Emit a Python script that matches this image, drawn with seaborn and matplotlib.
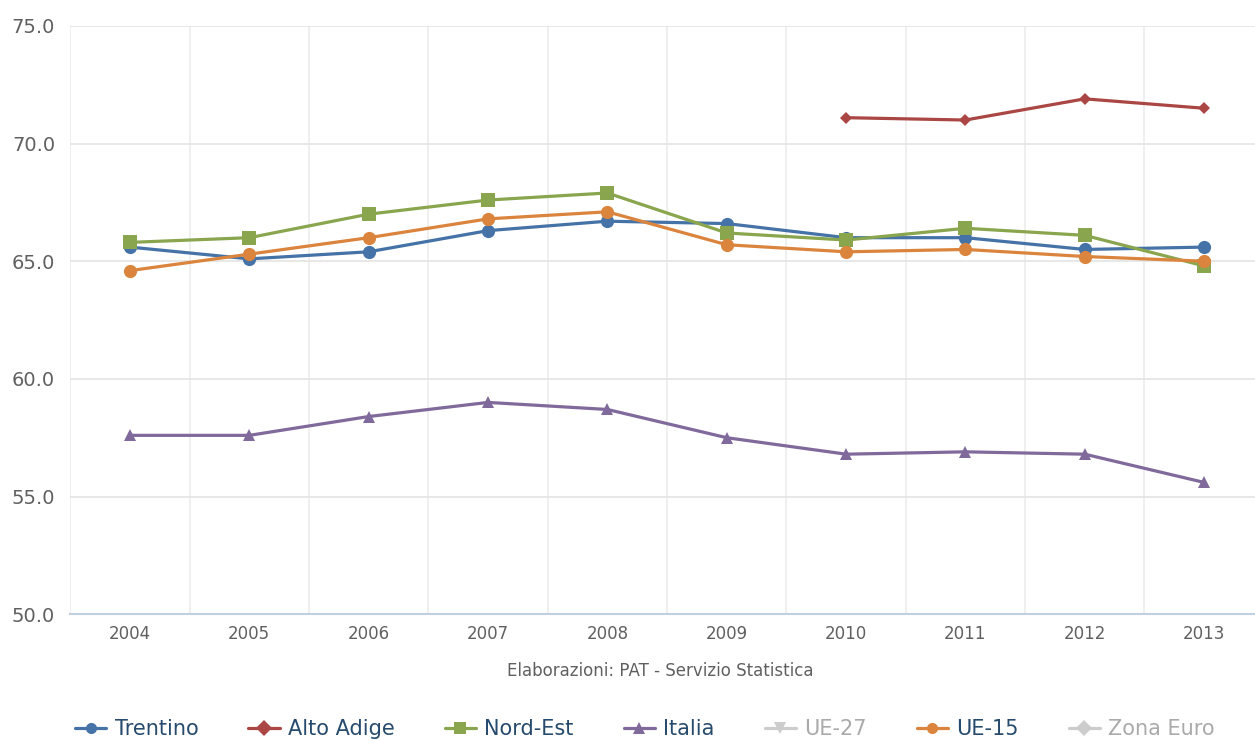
import numpy as np
import pandas as pd
import matplotlib
matplotlib.use("Agg")
import matplotlib.pyplot as plt
from matplotlib.lines import Line2D
import seaborn as sns

years = [2004, 2005, 2006, 2007, 2008, 2009, 2010, 2011, 2012, 2013]
trentino = [65.6, 65.1, 65.4, 66.3, 66.7, 66.6, 66.0, 66.0, 65.5, 65.6]
alto_adige = [np.nan, np.nan, np.nan, np.nan, np.nan, np.nan, 71.1, 71.0, 71.9, 71.5]
nord_est = [65.8, 66.0, 67.0, 67.6, 67.9, 66.2, 65.9, 66.4, 66.1, 64.8]
italia = [57.6, 57.6, 58.4, 59.0, 58.7, 57.5, 56.8, 56.9, 56.8, 55.6]
ue15 = [64.6, 65.3, 66.0, 66.8, 67.1, 65.7, 65.4, 65.5, 65.2, 65.0]

series = ["Trentino", "Alto Adige", "Nord-Est", "Italia", "UE-27", "UE-15", "Zona Euro"]
colors = ["#4572A7", "#AA4643", "#89A54E", "#80699B", "#CCCCCC", "#DB843D", "#CCCCCC"]
markers = ["o", "D", "s", "^", "v", "o", "D"]
visible = {"Trentino": trentino, "Alto Adige": alto_adige, "Nord-Est": nord_est,
           "Italia": italia, "UE-15": ue15}

sns.set_style("white")
plt.rcParams["font.family"] = ["DejaVu Sans"]

fig = plt.figure(figsize=(12.55, 7.4), dpi=100)
ax = fig.add_axes([0.056, 0.170, 0.951, 0.795])

msize = {"o": 9.5, "D": 6.5, "s": 10, "^": 9}
for name, vals in visible.items():
    i = series.index(name)
    df = pd.DataFrame({"year": years, "val": vals}).dropna()
    sns.lineplot(data=df, x="year", y="val", ax=ax, color=colors[i], marker=markers[i],
                 markersize=msize[markers[i]], markeredgewidth=0, linewidth=2.3, legend=False)

ax.set_xlim(2003.5, 2013.5)
ax.set_ylim(50, 75)
ax.set_xticks(years)
ax.set_xticks(np.arange(2003.5, 2014, 1), minor=True)
ax.set_yticks([50, 55, 60, 65, 70, 75])
ax.set_yticklabels(["50.0", "55.0", "60.0", "65.0", "70.0", "75.0"])
ax.grid(axis="y", color="#E4E4E4", linewidth=1.2)
ax.grid(axis="x", which="minor", color="#ECECEC", linewidth=1.2)
ax.set_axisbelow(True)
for s in ["top", "right", "left"]:
    ax.spines[s].set_visible(False)
ax.spines["bottom"].set_color("#C0D0E0")
ax.spines["bottom"].set_linewidth(1.5)
ax.tick_params(axis="x", which="major", length=0, labelsize=12, colors="#606060", pad=8)
ax.tick_params(axis="x", which="minor", length=8, color="#C0D0E0", width=1.2)
ax.tick_params(axis="y", length=0, labelsize=14, colors="#606060", pad=11)
ax.set_xlabel("")
ax.set_ylabel("")

fig.text(0.526, 0.093, "Elaborazioni: PAT - Servizio Statistica", ha="center", va="center",
         fontsize=12, color="#606060")

handles = [Line2D([0], [0], color=colors[i], marker=markers[i], markersize=8,
                  markeredgewidth=0, linewidth=2.3) for i in range(len(series))]
leg = fig.legend(handles, series, loc="center", bbox_to_anchor=(0.514, 0.015), ncol=7,
                 frameon=False, fontsize=15, handlelength=1.5, columnspacing=2.4,
                 handletextpad=0.4)
for t, c in zip(leg.get_texts(), colors):
    t.set_color("#274B6D" if c != "#CCCCCC" else "#AAAAAA")

fig.savefig("out.png", dpi=100)
